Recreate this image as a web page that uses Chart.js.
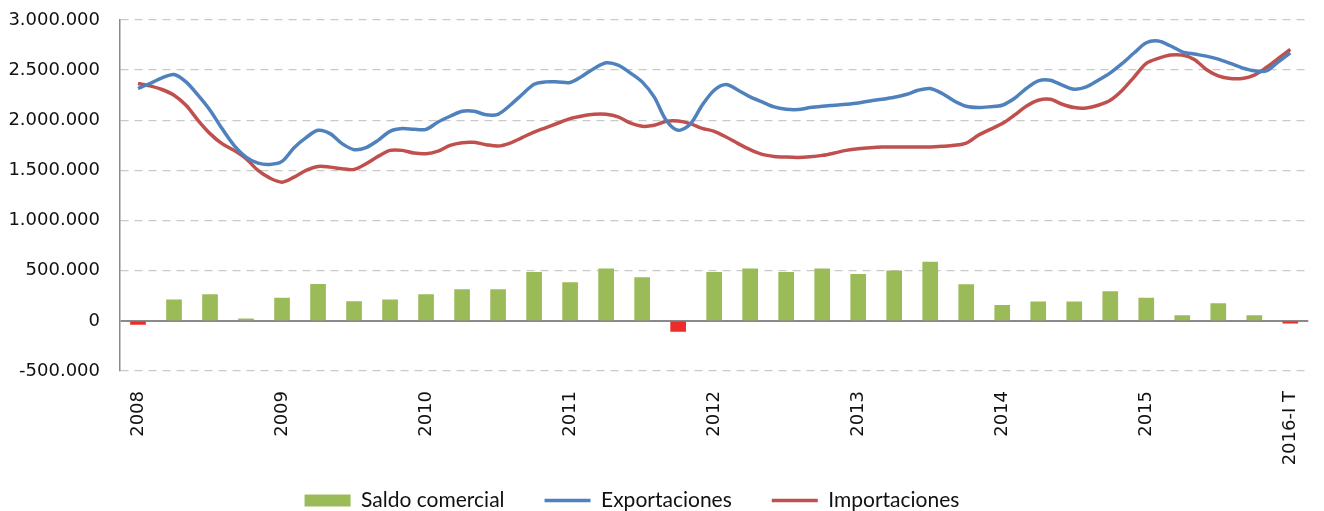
<!DOCTYPE html>
<html lang="es">
<head>
<meta charset="utf-8">
<title>Saldo comercial, exportaciones e importaciones</title>
<script src="https://cdn.jsdelivr.net/npm/chart.js@4/dist/chart.umd.min.js"></script>
<style>
    html, body { margin: 0; padding: 0; background: #fff; }
    #wrap { width: 1324px; height: 511px; position: relative; }
</style>
</head>
<body>
<div id="wrap"><canvas id="tradeChart"></canvas></div>
<script>
// Etiquetas del eje X (una por año, cada 12 meses)
const etiquetasAnio = ['2008', '2009', '2010', '2011', '2012', '2013', '2014', '2015', '2016-I T'];

// Saldo comercial trimestral (2008-I a 2016-I)
const saldoComercial = [
    -35000, 210000, 262000, 20000, 227000, 363000, 193000, 210000, 262000,
    312000, 312000, 485000, 382000, 520000, 432000, -105000, 485000, 520000,
    485000, 520000, 465000, 500000, 587000, 362000, 155000, 190000, 190000,
    293000, 227000, 53000, 173000, 53000, -22000
];

// Exportaciones mensuales (ene 2008 a ene 2016)
const exportaciones = [
    2317000, 2367000, 2423000, 2457000, 2383000, 2250000, 2100000, 1917000, 1750000, 1633000,
    1573000, 1560000, 1590000, 1727000, 1827000, 1900000, 1867000, 1767000, 1707000, 1727000,
    1800000, 1890000, 1917000, 1910000, 1910000, 1983000, 2040000, 2090000, 2090000, 2055000,
    2060000, 2150000, 2257000, 2360000, 2383000, 2383000, 2377000, 2440000, 2517000, 2573000,
    2550000, 2473000, 2383000, 2233000, 2000000, 1900000, 1960000, 2150000, 2300000, 2357000,
    2300000, 2233000, 2183000, 2133000, 2110000, 2107000, 2127000, 2140000, 2150000, 2160000,
    2173000, 2193000, 2210000, 2230000, 2257000, 2300000, 2317000, 2267000, 2193000, 2140000,
    2127000, 2135000, 2150000, 2217000, 2317000, 2393000, 2400000, 2350000, 2310000, 2333000,
    2400000, 2473000, 2567000, 2673000, 2773000, 2790000, 2743000, 2683000, 2660000, 2640000,
    2610000, 2567000, 2523000, 2493000, 2493000, 2583000, 2673000
];

// Importaciones mensuales (ene 2008 a ene 2016)
const importaciones = [
    2367000, 2343000, 2307000, 2250000, 2150000, 2000000, 1867000, 1767000, 1700000, 1617000,
    1500000, 1423000, 1383000, 1433000, 1500000, 1540000, 1533000, 1517000, 1510000, 1567000,
    1640000, 1700000, 1700000, 1673000, 1667000, 1693000, 1750000, 1777000, 1780000, 1757000,
    1743000, 1773000, 1827000, 1883000, 1927000, 1973000, 2017000, 2043000, 2060000, 2060000,
    2033000, 1973000, 1940000, 1950000, 1990000, 1993000, 1967000, 1920000, 1890000, 1833000,
    1767000, 1707000, 1660000, 1640000, 1633000, 1630000, 1637000, 1650000, 1673000, 1700000,
    1717000, 1727000, 1733000, 1733000, 1733000, 1733000, 1733000, 1740000, 1750000, 1773000,
    1850000, 1910000, 1967000, 2050000, 2140000, 2200000, 2210000, 2160000, 2127000, 2123000,
    2150000, 2200000, 2300000, 2433000, 2567000, 2617000, 2650000, 2650000, 2607000, 2507000,
    2443000, 2417000, 2417000, 2450000, 2527000, 2617000, 2707000
];

const COLOR_SALDO = '#9BBB59';
const COLOR_SALDO_NEG = '#EE2B2B';
const COLOR_EXPORT = '#4F81BD';
const COLOR_IMPORT = '#C0504D';

const LEGEND_GAP = 40;
const LEGEND_FONT = 21;
const LEGEND_RESERVED = 40;

document.addEventListener('DOMContentLoaded', function() {
    initializeTradeChart();
});

function formatMiles(value) {
    return String(value).replace(/\B(?=(\d{3})+(?!\d))/g, '.');
}

// La leyenda usa padding grande para separar los items en horizontal,
// pero en vertical solo reservamos lo justo y la bajamos al borde inferior
const legendFitPlugin = {
    id: 'legendFit',
    beforeUpdate(chart) {
        const legend = chart.legend;
        if (!legend || legend._fitPatched) return;
        const fit = legend.fit;
        legend.fit = function() {
            fit.call(this);
            this.height = LEGEND_RESERVED;
        };
        legend._fitPatched = true;
    },
    afterLayout(chart) {
        const legend = chart.legend;
        if (!legend) return;
        legend.top = chart.height - (LEGEND_GAP + LEGEND_FONT);
        legend.bottom = chart.height;
        legend.height = LEGEND_GAP + LEGEND_FONT;
        // la leyenda original queda algo a la izquierda del centro
        legend.left -= 27;
        legend.right -= 27;
    }
};

function initializeTradeChart() {
    const ctx = document.getElementById('tradeChart');

    // barras cada trimestre (3 meses), lineas cada mes
    const barras = saldoComercial.map((v, i) => ({ x: i * 3, y: v }));
    const lineaExport = exportaciones.map((v, i) => ({ x: i, y: v }));
    const lineaImport = importaciones.map((v, i) => ({ x: i, y: v }));

    new Chart(ctx, {
        type: 'bar',
        data: {
            datasets: [{
                label: 'Saldo comercial',
                data: barras,
                backgroundColor: c => (c.raw && c.raw.y < 0) ? COLOR_SALDO_NEG : COLOR_SALDO,
                borderWidth: 0,
                barThickness: 15
            }, {
                type: 'line',
                label: 'Exportaciones',
                data: lineaExport,
                borderColor: COLOR_EXPORT,
                backgroundColor: COLOR_EXPORT,
                borderWidth: 3.5,
                pointRadius: 0,
                tension: 0.3
            }, {
                type: 'line',
                label: 'Importaciones',
                data: lineaImport,
                borderColor: COLOR_IMPORT,
                backgroundColor: COLOR_IMPORT,
                borderWidth: 3.5,
                pointRadius: 0,
                tension: 0.3
            }]
        },
        plugins: [legendFitPlugin],
        options: {
            responsive: true,
            maintainAspectRatio: false,
            animation: false,
            layout: { padding: { top: 20, right: 6, bottom: 0, left: 0 } },
            scales: {
                x: {
                    type: 'linear',
                    offset: false,
                    min: -1.5,
                    max: 97.5,
                    afterBuildTicks: scale => {
                        scale.ticks = etiquetasAnio.map((e, i) => ({ value: i * 12 }));
                    },
                    afterFit: scale => { scale.height = 100; },
                    grid: { display: false },
                    border: { display: false },
                    ticks: {
                        autoSkip: false,
                        maxRotation: 90,
                        minRotation: 90,
                        padding: 12,
                        color: '#111',
                        font: { family: 'DejaVu Sans', size: 18 },
                        callback: value => etiquetasAnio[Math.round(value / 12)]
                    }
                },
                y: {
                    min: -500000,
                    max: 3000000,
                    afterFit: scale => {
                        scale.width = 120;
                        // sin esto el padding de las etiquetas empuja el area hacia abajo
                        scale.paddingTop = 11;
                        scale.paddingBottom = 11;
                    },
                    ticks: {
                        stepSize: 500000,
                        padding: 20,
                        color: '#111',
                        font: { family: 'DejaVu Sans', size: 18 },
                        callback: value => formatMiles(value)
                    },
                    grid: {
                        drawTicks: false,
                        lineWidth: c => (c.tick && c.tick.value === 0) ? 2 : 1.3,
                        color: c => (c.tick && c.tick.value === 0) ? '#8A8A8A' : '#CACACA'
                    },
                    border: {
                        display: true,
                        color: '#8A8A8A',
                        width: 1.5,
                        dash: c => (c.tick && c.tick.value === 0) ? [] : [8, 6]
                    }
                }
            },
            plugins: {
                tooltip: { enabled: false },
                legend: {
                    position: 'bottom',
                    labels: {
                        usePointStyle: true,
                        pointStyleWidth: 46,
                        boxHeight: 12,
                        padding: LEGEND_GAP,
                        color: '#111',
                        font: { family: 'Lato', size: LEGEND_FONT },
                        generateLabels: chart => chart.data.datasets.map((ds, i) => ({
                            text: ds.label,
                            datasetIndex: i,
                            fillStyle: i === 0 ? COLOR_SALDO : ds.borderColor,
                            strokeStyle: i === 0 ? COLOR_SALDO : ds.borderColor,
                            lineWidth: i === 0 ? 0 : 3.5,
                            pointStyle: i === 0 ? 'rect' : 'line',
                            fontColor: '#111',
                            hidden: false
                        }))
                    }
                }
            }
        }
    });
}
</script>
</body>
</html>
